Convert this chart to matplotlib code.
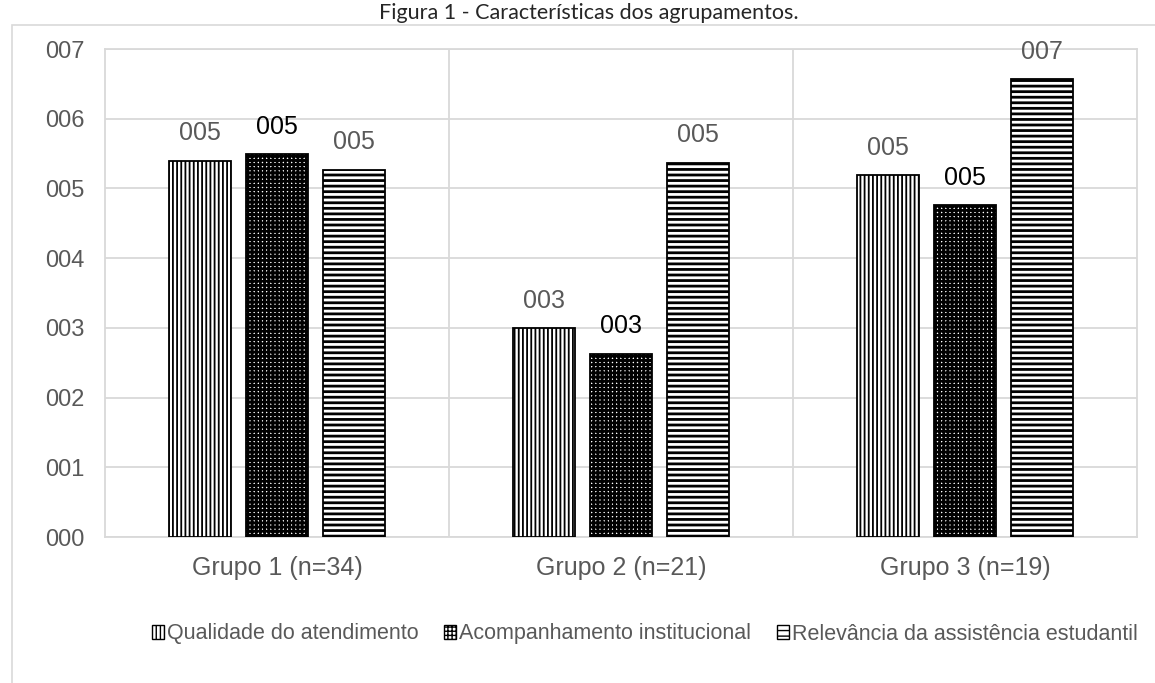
import numpy as np
import matplotlib
matplotlib.use('Agg')
from matplotlib import pyplot as plt
import matplotlib.patches as mpatches

# data
grupos = ['Grupo 1 (n=34)', 'Grupo 2 (n=21)', 'Grupo 3 (n=19)']
series = ['Qualidade do atendimento', 'Acompanhamento institucional',
          'Relevância da assistência estudantil']
qualidade = [5.40, 3.00, 5.19]
acompanhamento = [5.49, 2.63, 4.76]
relevancia = [5.27, 5.37, 6.57]
yticks = [0, 1, 2, 3, 4, 5, 6, 7]

plt.rcParams['font.family'] = ['Liberation Sans', 'DejaVu Sans']

grey = '#595959'
gridc = '#d9d9d9'

fig = plt.figure(figsize=(11.55, 6.83), dpi=100)

## outer chart border (runs off the right/bottom edge like the scan)
fig.patches.append(mpatches.Rectangle((12/1155, -0.05), 1.1, 1 - 25/683 + 0.05,
                                      transform=fig.transFigure, fill=False,
                                      edgecolor=gridc, lw=1.2))
fig.text(589/1155, 1 - 19/683, 'Figura 1 - Características dos agrupamentos.',
         ha='center', va='baseline', fontsize=15.5, color='#262626',
         family=['Lato', 'DejaVu Sans'])

ax = fig.add_axes([105/1155, 1 - 537/683, (1137 - 105)/1155, (537 - 49)/683])

x = np.arange(len(grupos))
w = 0.18
off = 0.224
data = [qualidade, acompanhamento, relevancia]
hatches = ['||||', '++++', '---']
hlw = [1.3, 2.0, 2.0]
lab_col = [grey, 'black', grey]

handles = []
for i, vals in enumerate(data):
    with plt.rc_context({'hatch.linewidth': hlw[i]}):
        bars = ax.bar(x + (i - 1)*off, vals, w, facecolor='white',
                      edgecolor='black', hatch=hatches[i], lw=1.3, zorder=3)
        for b in bars:
            if hasattr(b, 'set_hatch_linewidth'):
                b.set_hatch_linewidth(hlw[i])
        h = mpatches.Patch(facecolor='white', edgecolor='black',
                           hatch=hatches[i], lw=1.0, label=series[i])
        if hasattr(h, 'set_hatch_linewidth'):
            h.set_hatch_linewidth(hlw[i])
        handles.append(h)
    ax.bar_label(bars, labels=['%03d' % int(round(v)) for v in vals],
                 padding=11, fontsize=18, color=lab_col[i])

ax.set_xlim(-0.5, 2.5)
ax.set_ylim(0, 7)
ax.set_yticks(yticks)
ax.set_yticklabels(['%03d' % v for v in yticks])
ax.set_xticks(x)
ax.set_xticklabels(grupos, fontsize=18)
ax.tick_params(axis='both', length=0, colors=grey)
ax.tick_params(axis='y', pad=15, labelsize=17)
ax.tick_params(axis='x', pad=14)

## horizontal gridlines + category separators
for yv in yticks:
    ax.axhline(yv, color=gridc, lw=1.3, zorder=1)
for xv in [0.5, 1.5]:
    ax.axvline(xv, color=gridc, lw=1.3, zorder=1)
for s in ax.spines.values():
    s.set_color(gridc)
    s.set_linewidth(1.3)

leg = fig.legend(handles=handles, loc='center', bbox_to_anchor=(645/1155, 1 - 634/683),
                 ncol=3, frameon=False, fontsize=15.5, handlelength=0.55,
                 handleheight=0.65, handletextpad=0.15, columnspacing=1.2)
for t in leg.get_texts():
    t.set_color(grey)

fig.savefig('out.png', dpi=100)
